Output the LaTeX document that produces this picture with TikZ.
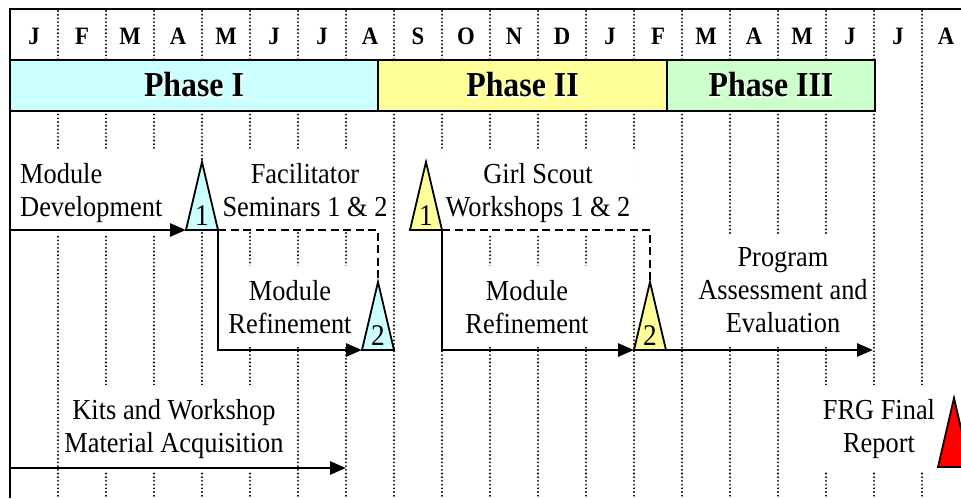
\documentclass[tikz,border=0pt]{standalone}
\usepackage{fontspec}
\setmainfont{Liberation Serif}[FakeStretch=0.91]
\usetikzlibrary{arrows.meta}
\definecolor{phaseone}{HTML}{CCFFFF}
\definecolor{phasetwo}{HTML}{FFFF99}
\definecolor{phasethree}{HTML}{CCFFCC}
\newcommand\shadowtext[1]{\makebox[0pt][l]{\hspace{1.3pt}\raisebox{-1.3pt}{\color{white}#1}}#1}

\begin{document}
\begin{tikzpicture}[x=1pt,y=-1pt,
	grid line/.style={line width=2.1pt,line cap=round,dash pattern=on 0pt off 3.7pt},
	month/.style={inner sep=0pt,font=\fontsize{25}{25}\selectfont\bfseries},
	phase/.style={draw=black,line width=1.8pt,minimum height=51pt,inner sep=0pt,font=\fontsize{35}{35}\selectfont\bfseries},
	task/.style={fill=white,align=center,inner xsep=2pt,inner ysep=14pt,font=\fontsize{29}{33}\selectfont},
	digit/.style={inner sep=0pt,font=\fontsize{30}{30}\selectfont},
	milestone/.style={draw=black,line width=1.8pt,line join=miter},
	flow/.style={line width=2.8pt,-{Triangle[length=16pt,width=13pt]}},
	link/.style={line width=2.8pt,dash pattern=on 8pt off 4.5pt}]
	\useasboundingbox (0,0) rectangle (961,498);

	% month grid
	\foreach \k in {1,...,19} { \draw[grid line] ({10+48*\k},11) -- ({10+48*\k},498); }

	% phases
	\node[phase,fill=phaseone,minimum width=368pt] (phase1) at (194,85.5) {\shadowtext{Phase I}};
	\node[phase,fill=phasetwo,minimum width=289pt] (phase2) at (522.5,85.5) {\shadowtext{Phase II}};
	\node[phase,fill=phasethree,minimum width=208pt] (phase3) at (771,85.5) {\shadowtext{Phase III}};

	% months
	\foreach \m [count=\i from 0] in {J,F,M,A,M,J,J,A,S,O,N,D,J,F,M,A,M,J,J,A} { \node[month] (m\i) at ({34+48*\i},36.5) {\m}; }

	% tasks
	\node[task,align=left,anchor=west] (dev) at (18,192.8) {Module\\Development};
	\node[task] (fac) at (305,189.6) {Facilitator\\Seminars 1 \& 2};
	\node[task,inner xsep=5pt] (gsw) at (538,192.8) {Girl Scout\\Workshops 1 \& 2};
	\node[task] (refA) at (290,306.6) {Module\\Refinement};
	\node[task] (refB) at (527,306.6) {Module\\Refinement};
	\node[task] (eval) at (783,290.4) {Program\\Assessment and\\Evaluation};
	\node[task] (kits) at (174,428.8) {Kits and Workshop\\Material Acquisition};
	\node[task] (frg) at (879,428.8) {FRG Final\\Report};

	% milestones
	\foreach \nm/\x/\y/\c/\n in {semA/202/230/phaseone/1,semB/378/350/phaseone/2,wsA/426/230/phasetwo/1,wsB/650/350/phasetwo/2} {
		\draw[milestone,fill=\c] ({\x-16},\y) coordinate (\nm-l) -- ({\x},{\y-68}) coordinate (\nm-t) -- ({\x+16},\y) coordinate (\nm-r) -- cycle;
		\node[digit] (\nm-n) at ({\x},{\y-14}) {\n};
	}
	\draw[milestone,fill=red] (938,467) coordinate (final-l) -- (954,398) coordinate (final-t) -- (970,467) -- cycle;

	% schedule arrows
	\coordinate (devstart) at (10,230);
	\coordinate (evalend) at (873,350);
	\coordinate (kitstart) at (10,468);
	\coordinate (kitend) at (346,468);
	\draw[flow] (devstart) -- (semA-l);
	\draw[link] (semA-r) -| (semB-t);
	\draw[flow] (semA-r) |- (semB-l);
	\draw[link] (wsA-r) -| (wsB-t);
	\draw[flow] (wsA-r) |- (wsB-l);
	\draw[flow] (wsB-r) -- (evalend);
	\draw[flow] (kitstart) -- (kitend);

	% frame
	\draw[line width=2pt] (10,498) -- (10,9) -- (961,9);
\end{tikzpicture}
\end{document}
